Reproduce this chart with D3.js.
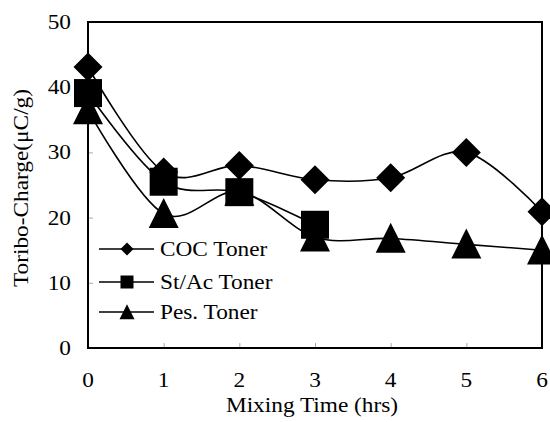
<!DOCTYPE html>
<html>
<head>
<meta charset="utf-8">
<script src="https://cdn.jsdelivr.net/npm/d3@7"></script>
<style>
  body { margin: 0; background: #fff; }
  text { font-family: "Liberation Serif", "Times New Roman", serif; fill: #000; }
</style>
</head>
<body>
<div id="chart"></div>
<script>
var hours = [0, 1, 2, 3, 4, 5, 6];
var cocToner = [43.1, 27.0, 28.0, 25.8, 26.1, 30.0, 20.9];
var stacToner = [39.1, 25.5, 23.9, 18.9];
var pesToner = [36.5, 20.6, 24.0, 17.0, 16.8, 15.9, 15.0];
var yTicks = [0, 10, 20, 30, 40, 50];
var seriesNames = ["COC Toner", "St/Ac Toner", "Pes. Toner"];
var seriesShapes = ["diamond", "square", "triangle"];

(function () {
    var width = 550,
        height = 422;
    var left = 88, right = 542, top = 22, bottom = 348;
    var stretch = 1.11;   // the original type is a bit wide

    var svg = d3.select("#chart")
        .append("svg")
        .attr("width", width)
        .attr("height", height);

    var x = d3.scaleLinear().domain([0, 6]).range([left, right]);
    var y = d3.scaleLinear().domain([0, 50]).range([bottom, top]);

    // marker path, s = half size
    function marker(shape, s) {
        if (shape == "diamond") {
            return "M0," + (-s) + "L" + s + ",0L0," + s + "L" + (-s) + ",0Z";
        }
        if (shape == "square") {
            return "M" + (-s) + "," + (-s) + "H" + s + "V" + s + "H" + (-s) + "Z";
        }
        return "M0," + (-s * 1.05) + "L" + s + "," + (s * 0.95) + "L" + (-s) + "," + (s * 0.95) + "Z";
    }

    function label(px, py, str, anchor, rot) {
        return svg.append("text")
            .attr("transform", "translate(" + px + "," + py + ")" + (rot ? " rotate(" + rot + ")" : "") + " scale(" + stretch + ",1)")
            .attr("text-anchor", anchor)
            .attr("font-size", 21)
            .text(str);
    }

    // ticks (inward, gray)
    svg.append("g")
        .attr("transform", "translate(0," + bottom + ")")
        .call(d3.axisBottom(x).tickValues(hours).tickSize(-5).tickFormat(""))
        .call(function (g) {
            g.select(".domain").remove();
            g.selectAll("line").attr("stroke", "#aaa");
        });
    svg.append("g")
        .attr("transform", "translate(" + left + ",0)")
        .call(d3.axisLeft(y).tickValues(yTicks).tickSize(-5).tickFormat(""))
        .call(function (g) {
            g.select(".domain").remove();
            g.selectAll("line").attr("stroke", "#aaa");
        });

    // frame
    svg.append("rect")
        .attr("x", left).attr("y", top)
        .attr("width", right - left).attr("height", bottom - top)
        .attr("fill", "none")
        .attr("stroke", "#000")
        .attr("stroke-width", 2);

    // tick labels
    hours.forEach(function (d) {
        label(x(d), 387, d, "middle");
    });
    yTicks.forEach(function (d) {
        label(71, y(d) + 7, d, "end");
    });

    label((left + right) / 2 - 3, 412, "Mixing Time (hrs)", "middle");
    label(28, 188, "Toribo-Charge(\u03bcC/g)", "middle", -90);

    // series
    var allSeries = [cocToner, stacToner, pesToner];
    var line = d3.line()
        .x(function (d, i) { return x(hours[i]); })
        .y(function (d) { return y(d); })
        .curve(d3.curveCardinal.tension(0));

    allSeries.forEach(function (vals, k) {
        svg.append("path")
            .attr("d", line(vals))
            .attr("fill", "none")
            .attr("stroke", "#000")
            .attr("stroke-width", 1.6);
    });

    var sizes = [14.5, 14, 15];
    [2, 1, 0].forEach(function (k) {
        svg.selectAll(".m" + k)
            .data(allSeries[k])
            .enter().append("path")
            .attr("class", "m" + k)
            .attr("transform", function (d, i) {
                return "translate(" + x(hours[i]) + "," + y(d) + ")";
            })
            .attr("d", marker(seriesShapes[k], sizes[k]))
            .attr("fill", "#000");
    });

    // legend
    var rowsY = [249, 282, 312];
    var legSizes = [6.5, 6.5, 7.5];
    seriesNames.forEach(function (name, k) {
        svg.append("line")
            .attr("x1", 99).attr("x2", 154)
            .attr("y1", rowsY[k]).attr("y2", rowsY[k])
            .attr("stroke", "#000")
            .attr("stroke-width", 1.6);
        svg.append("path")
            .attr("transform", "translate(127," + rowsY[k] + ")")
            .attr("d", marker(seriesShapes[k], legSizes[k]))
            .attr("fill", "#000");
        label(160, rowsY[k] + 7, name, "start");
    });
})();
</script>
</body>
</html>
